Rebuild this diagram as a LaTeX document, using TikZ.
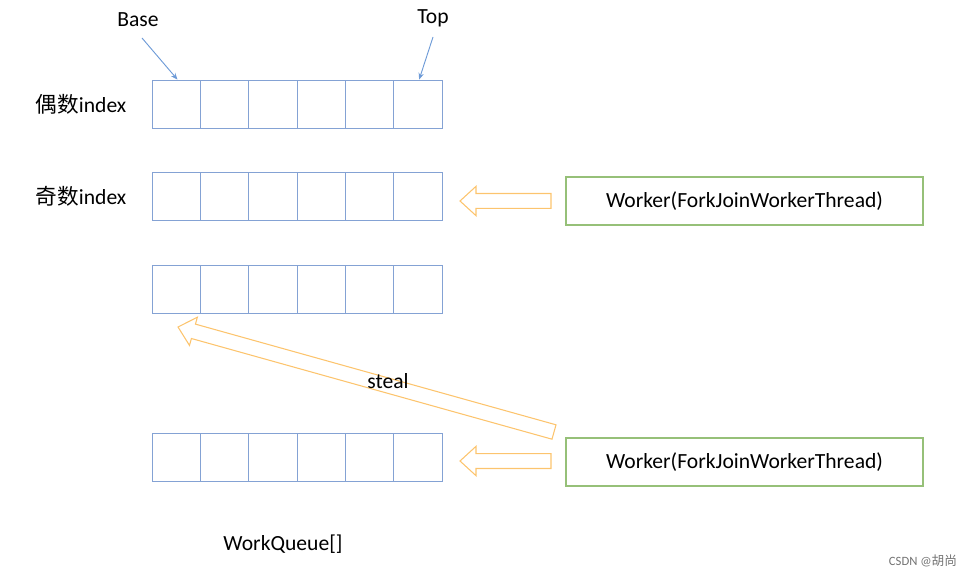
\documentclass[tikz,border=0pt]{standalone}
\usepackage{fontspec}
\setmainfont{Carlito}
\newfontfamily\cjk{Noto Sans CJK SC}
\usepackage{tikz}
\usetikzlibrary{arrows.meta,positioning,calc}
\definecolor{cellC}{RGB}{132,162,212}
\definecolor{workC}{RGB}{150,192,120}
\definecolor{flowC}{RGB}{252,196,110}
\definecolor{ptrC}{RGB}{110,155,215}
\tikzset{
    cell/.style   = {draw=cellC, line width=0.6pt, minimum width=36.25pt,
            minimum height=36pt, inner sep=0pt},
    worker/.style = {draw=workC, line width=0.8pt, minimum width=267.75pt,
            minimum height=36pt, font=\fontsize{16.2}{18}\selectfont},
    label/.style  = {font=\fontsize{16.2}{18}\selectfont, inner sep=1pt},
    ptr/.style    = {-{Stealth[length=5pt,width=4pt]}, draw=ptrC, line width=0.7pt},
}
% hollow block arrow from #1 to #2
\newcommand{\BlockArrow}[2]{%
    \path let \p1 = ($(#2)-(#1)$), \n1 = {atan2(\y1,\x1)}, \n2 = {veclen(\x1,\y1)} in
        [draw=flowC, line width=0.8pt, line join=miter, shift={(#1)}, rotate=\n1]
        (0pt,-5.6pt) -- (\n2-12pt,-5.6pt) -- (\n2-12pt,-11pt) -- (\n2,0pt)
        -- (\n2-12pt,11pt) -- (\n2-12pt,5.6pt) -- (0pt,5.6pt) -- cycle;
}
\begin{document}
\begin{tikzpicture}[x=0.75pt, y=-0.75pt]
    \useasboundingbox (0,0) rectangle (973,577);
    % queues
    \foreach \row/\yy in {1/104, 2/196, 3/289, 4/457} {
        \foreach \i in {1,...,6} {
            \node[cell] (q\row c\i) at ({152+48.33*(\i-0.5)}, \yy) {};
        }
    }
    % row labels
    \node[label] (even) at (81,104) {{\cjk 偶数}index};
    \node[label] (odd) at (81,196) {{\cjk 奇数}index};
    % pointers
    \node[label] (base) at (138,20) {Base};
    \node[label] (top) at (433,18) {Top};
    \coordinate (baseTail) at (142,38);
    \coordinate (topTail) at (433,37);
    \draw[ptr] (baseTail) -- ($(q1c1.north)+(1pt,0)$);
    \draw[ptr] (topTail) -- ($(q1c6.north)+(1pt,0)$);
    % workers
    \node[worker] (w1) at (744.5,201) {Worker(ForkJoinWorkerThread)};
    \node[worker] (w2) at (744.5,462) {Worker(ForkJoinWorkerThread)};
    \coordinate (in1) at (460,201);
    \coordinate (in2) at (460,461);
    \coordinate (out1) at (551,201);
    \coordinate (out2) at (551,461);
    \BlockArrow{out1}{in1}
    \BlockArrow{out2}{in2}
    % steal
    \coordinate (stealFrom) at (554,432);
    \coordinate (stealTo) at (178,327);
    \BlockArrow{stealFrom}{stealTo}
    \node[label] (steal) at (388,381) {steal};
    \node[label] (wq) at (283,544) {WorkQueue[]};
    \node[font=\fontsize{9.5}{10}\selectfont, text=black!55] (mark) at (923,561)
        {CSDN @{\cjk 胡尚}};
\end{tikzpicture}
\end{document}
